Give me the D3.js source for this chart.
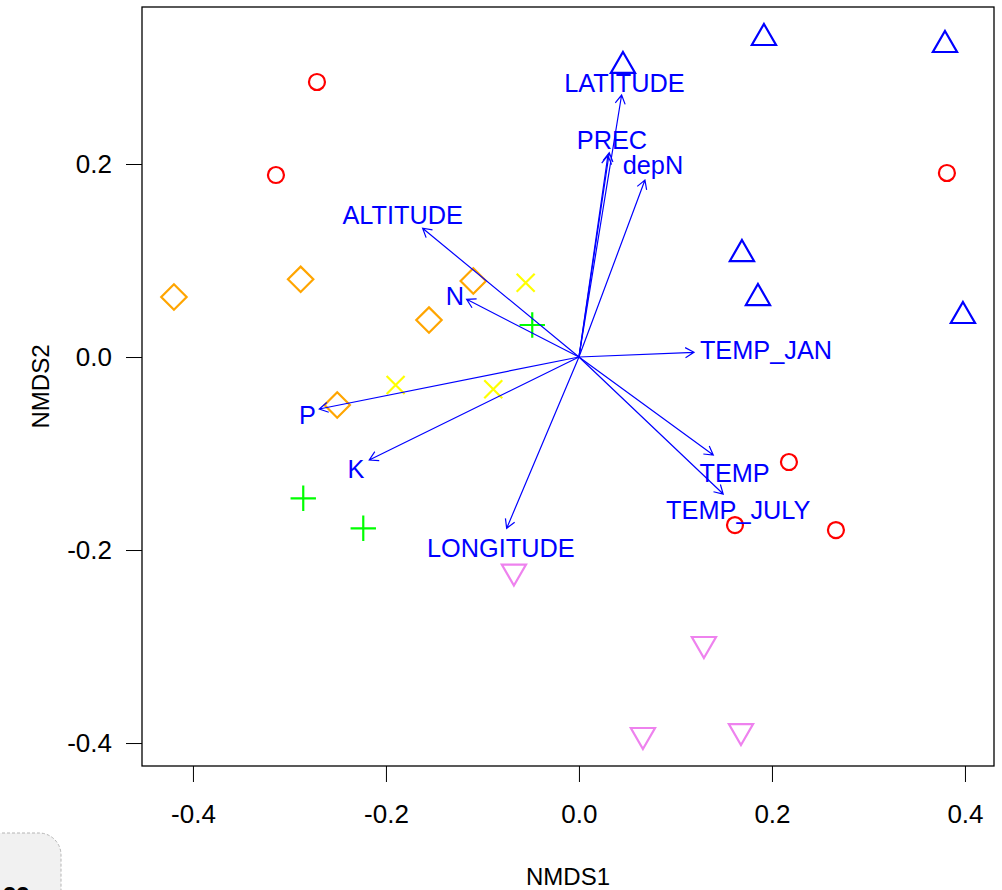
<!DOCTYPE html>
<html>
<head>
<meta charset="utf-8">
<script src="https://cdn.jsdelivr.net/npm/d3@7"></script>
<style>
  html, body { margin: 0; padding: 0; background: #fff; }
  svg { display: block; }
  text { font-family: "Liberation Sans", Arial, sans-serif; }
</style>
</head>
<body>
<svg id="chart" width="1002" height="890"></svg>
<script>
// ---------- data ----------
const xTicks = [-0.4, -0.2, 0.0, 0.2, 0.4];
const yTicks = [-0.4, -0.2, 0.0, 0.2];
const xTitle = "NMDS1";
const yTitle = "NMDS2";

// site scores by group
const redCircles = [[-0.2715, 0.2850], [-0.3140, 0.1886], [0.3813, 0.1907], [0.2176, -0.1088], [0.1617, -0.1741], [0.2663, -0.1793]];
const blueTriangles = [[0.0456, 0.3016], [0.1917, 0.3306], [0.3793, 0.3233], [0.1689, 0.1067], [0.1855, 0.0611], [0.3979, 0.0425]];
const orangeDiamonds = [[-0.4197, 0.0622], [-0.2884, 0.0805], [-0.1095, 0.0788], [-0.1554, 0.0383], [-0.2505, -0.0497]];
const yellowCrosses = [[-0.0552, 0.0770], [-0.1900, -0.0290], [-0.0888, -0.0335]];
const greenPlus = [[-0.0484, 0.0332], [-0.2857, -0.1464], [-0.2235, -0.1775]];
const violetTriangles = [[-0.0674, -0.2223], [0.1295, -0.2974], [0.0663, -0.3917], [0.1679, -0.3876]];

// environmental fit vectors
const envNames = ["LATITUDE", "PREC", "", "depN", "ALTITUDE", "N", "TEMP_JAN", "TEMP", "TEMP_JULY", "P", "K", "LONGITUDE"];
const envX = [0.0442, 0.0314, 0.0300, 0.0684, -0.1620, -0.1164, 0.1192, 0.1392, 0.1495, -0.2691, -0.2173, -0.0749];
const envY = [0.2715, 0.2117, 0.2090, 0.1834, 0.1334, 0.0598, 0.0049, -0.1016, -0.1420, -0.0539, -0.1067, -0.1775];
const labelX = [0.0472, 0.0342, 0.0342, 0.0767, -0.1827, -0.1285, 0.1938, 0.1613, 0.1651, -0.2813, -0.2311, -0.0810];
const labelY = [0.2845, 0.2254, 0.2254, 0.1990, 0.1475, 0.0632, 0.0076, -0.1200, -0.1582, -0.0596, -0.1155, -0.1977];

// ---------- chart ----------
const svg = d3.select("#chart");
const L = 142, R = 994, T = 7, B = 766;
const x = d3.scaleLinear().domain([-0.4528, 0.4301]).range([L, R]);
const y = d3.scaleLinear().domain([-0.4238, 0.3627]).range([B, T]);

const fs = 25.3;
const tfs = 26;

// axes
const xAxis = svg.append("g").attr("transform", `translate(0,${B})`)
  .call(d3.axisBottom(x).tickValues(xTicks).tickSize(16).tickPadding(23)
    .tickFormat(d => d.toFixed(1)));
const yAxis = svg.append("g").attr("transform", `translate(${L},0)`)
  .call(d3.axisLeft(y).tickValues(yTicks).tickSize(16).tickPadding(14)
    .tickFormat(d => d.toFixed(1)));
[xAxis, yAxis].forEach(a => {
  a.select(".domain").remove();
  a.selectAll("line").attr("stroke", "#000").attr("stroke-width", 1);
  a.selectAll("text").attr("fill", "#000").style("font-size", tfs + "px")
    .style("font-family", '"Liberation Sans", Arial, sans-serif');
});

// box
svg.append("rect").attr("x", L).attr("y", T).attr("width", R - L).attr("height", B - T)
  .attr("fill", "none").attr("stroke", "#000").attr("stroke-width", 1.3);

// axis titles
svg.append("text").attr("x", (L + R) / 2).attr("y", 885).attr("text-anchor", "middle")
  .style("font-size", "24px").attr("fill", "#000").text(xTitle);
svg.append("text").attr("transform", `translate(49,${(T + B) / 2}) rotate(-90)`)
  .attr("text-anchor", "middle").style("font-size", "24px").attr("fill", "#000").text(yTitle);

// markers
const plot = svg.append("g");
const sw = 2.2;
function circ(pts, col) {
  plot.selectAll(null).data(pts).enter().append("circle")
    .attr("cx", d => x(d[0])).attr("cy", d => y(d[1])).attr("r", 8)
    .attr("fill", "none").attr("stroke", col).attr("stroke-width", sw);
}
function tri(pts, col, up) {
  const r = 14, hw = 12.1, yc = 7;
  plot.selectAll(null).data(pts).enter().append("path")
    .attr("d", d => {
      const cx = x(d[0]), cy = y(d[1]);
      if (up) return `M${cx},${cy - r}L${cx + hw},${cy + yc}L${cx - hw},${cy + yc}Z`;
      return `M${cx},${cy + r}L${cx + hw},${cy - yc}L${cx - hw},${cy - yc}Z`;
    })
    .attr("fill", "none").attr("stroke", col).attr("stroke-width", sw).attr("stroke-linejoin", "miter");
}
function diamond(pts, col) {
  const s = 12.7;
  plot.selectAll(null).data(pts).enter().append("path")
    .attr("d", d => {
      const cx = x(d[0]), cy = y(d[1]);
      return `M${cx},${cy - s}L${cx + s},${cy}L${cx},${cy + s}L${cx - s},${cy}Z`;
    })
    .attr("fill", "none").attr("stroke", col).attr("stroke-width", sw);
}
function cross(pts, col) {
  const s = 9;
  plot.selectAll(null).data(pts).enter().append("path")
    .attr("d", d => {
      const cx = x(d[0]), cy = y(d[1]);
      return `M${cx - s},${cy - s}L${cx + s},${cy + s}M${cx - s},${cy + s}L${cx + s},${cy - s}`;
    })
    .attr("fill", "none").attr("stroke", col).attr("stroke-width", sw);
}
function plus(pts, col) {
  const s = 12.7;
  plot.selectAll(null).data(pts).enter().append("path")
    .attr("d", d => {
      const cx = x(d[0]), cy = y(d[1]);
      return `M${cx - s},${cy}L${cx + s},${cy}M${cx},${cy - s}L${cx},${cy + s}`;
    })
    .attr("fill", "none").attr("stroke", col).attr("stroke-width", sw);
}
circ(redCircles, "#FF0000");
tri(blueTriangles, "#0000FF", true);
diamond(orangeDiamonds, "#FFA500");
cross(yellowCrosses, "#FFFF00");
plus(greenPlus, "#00FF00");
tri(violetTriangles, "#EE82EE", false);

// arrows
const arr = svg.append("g");
const x0 = x(0), y0 = y(0);
const head = 10, ang = Math.PI / 6;
envNames.forEach((n, i) => {
  const ex = x(envX[i]), ey = y(envY[i]);
  const th = Math.atan2(ey - y0, ex - x0);
  const a1x = ex - head * Math.cos(th - ang), a1y = ey - head * Math.sin(th - ang);
  const a2x = ex - head * Math.cos(th + ang), a2y = ey - head * Math.sin(th + ang);
  arr.append("path")
    .attr("d", `M${x0},${y0}L${ex},${ey}M${a1x},${a1y}L${ex},${ey}L${a2x},${a2y}`)
    .attr("fill", "none").attr("stroke", "#0000FF").attr("stroke-width", 1.2);
  if (n) {
    arr.append("text").attr("x", x(labelX[i])).attr("y", y(labelY[i])).attr("dy", "0.36em")
      .attr("text-anchor", "middle").attr("fill", "#0000FF").style("font-size", fs + "px").text(n);
  }
});

// corner widget (bottom-left)
svg.append("rect").attr("x", -30).attr("y", 833).attr("width", 91).attr("height", 90).attr("rx", 22)
  .attr("fill", "#f1f1f1").attr("stroke", "#b5b5b5").attr("stroke-width", 1).attr("stroke-dasharray", "3,2");
svg.append("text").attr("x", 3).attr("y", 904).style("font-size", "24px").style("font-weight", "bold")
  .attr("fill", "#000").text("33");
</script>
</body>
</html>
